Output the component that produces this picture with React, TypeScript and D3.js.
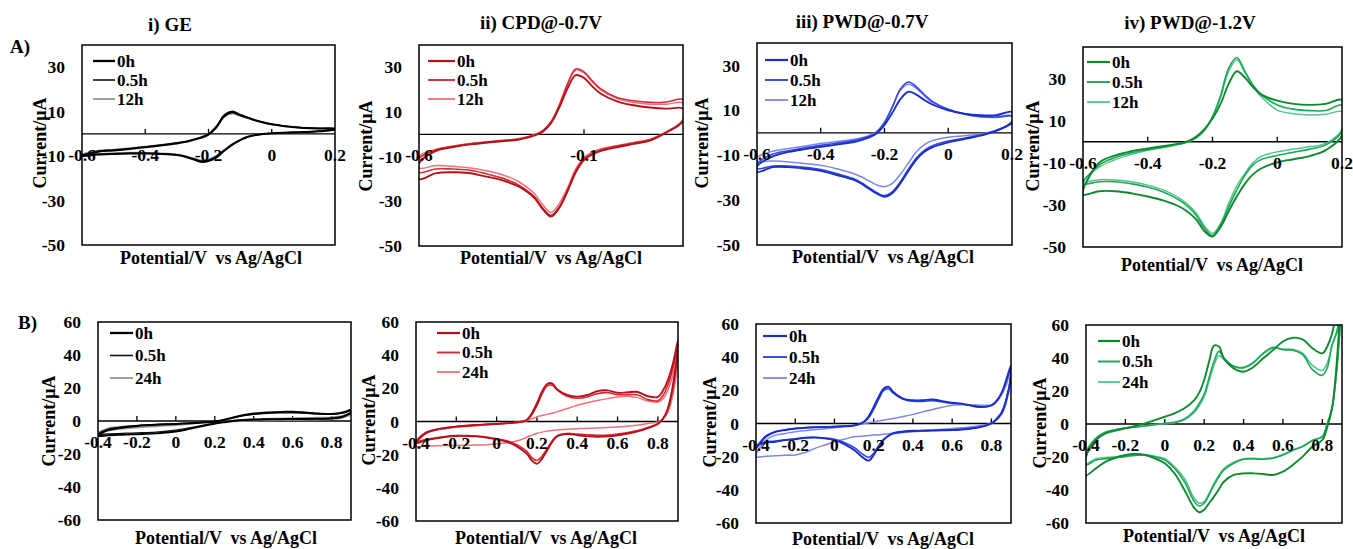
import * as d3 from "d3";

const A_POT = [-0.6, -0.55, -0.5, -0.45, -0.4, -0.35, -0.3, -0.275, -0.25, -0.225, -0.2, -0.175, -0.15, -0.125, -0.1, -0.075, -0.05, 0, 0.05, 0.1, 0.15, 0.2];
const B_POT = [-0.4, -0.35, -0.3, -0.25, -0.2, -0.15, -0.1, -0.05, 0, 0.05, 0.1, 0.15, 0.175, 0.2, 0.225, 0.25, 0.275, 0.3, 0.35, 0.4, 0.45, 0.5, 0.55, 0.6, 0.65, 0.7, 0.75, 0.8, 0.825, 0.85, 0.875, 0.9];

const A_TIMES = ["0h", "0.5h", "12h"];
const B_TIMES = ["0h", "0.5h", "24h"];

const A_TITLES = ["i) GE", "ii) CPD@-0.7V", "iii) PWD@-0.7V", "iv) PWD@-1.2V"];

// currents (µA); fwd = anodic sweep, rev = cathodic sweep, both listed by ascending potential
// A i) GE
const ai_0h_fwd = [-10, -8, -7.5, -6.8, -6, -5.2, -4.3, -3.7, -2.8, -1.8, -0.3, 3, 8, 9.7, 8.4, 7.2, 6, 4.3, 3.3, 2.7, 2.4, 2.3];
const ai_0h_rev = [-10, -9.3, -9, -8.8, -8.8, -9, -9.5, -10.2, -11.2, -12.3, -12, -10.2, -7.5, -4.8, -2.8, -1.3, -0.5, 0.3, 0.6, 0.8, 1.2, 2.0];
const ai_05h_fwd = [-9.6, -7.8, -7.2, -6.6, -5.8, -5, -4.1, -3.5, -2.6, -1.6, 0, 3.5, 8.6, 10.2, 8.8, 7.4, 6.1, 4.4, 3.4, 2.8, 2.5, 2.4];
const ai_05h_rev = [-9.6, -9.2, -8.9, -8.7, -8.7, -8.9, -9.4, -10.3, -11.5, -12.7, -12.4, -10.5, -7.7, -5, -2.9, -1.4, -0.6, 0.2, 0.5, 0.8, 1.2, 2.1];
const ai_12h_fwd = [-9.2, -7.5, -7, -6.4, -5.7, -4.9, -4, -3.4, -2.5, -1.5, 0, 3.2, 7.8, 9.1, 8.2, 7, 5.9, 4.2, 3.3, 2.7, 2.4, 2.3];
const ai_12h_rev = [-9.2, -8.9, -8.6, -8.4, -8.5, -8.7, -9.2, -9.9, -10.9, -11.8, -11.5, -9.8, -7.2, -4.6, -2.6, -1.2, -0.4, 0.3, 0.6, 0.9, 1.3, 2.0];

// A ii) CPD@-0.7V
const aii_0h_fwd = [-13, -7.5, -5.8, -4.6, -3.8, -3.1, -2.4, -1.6, -0.5, 1.2, 5, 12, 20.5, 26.5, 25.3, 21.5, 18.3, 14.8, 13, 12, 11.5, 11.5];
const aii_0h_rev = [-20, -17.5, -17, -17.3, -18.8, -20.5, -23.2, -25.5, -28.5, -33.5, -36.8, -33, -25.5, -17, -11.5, -9, -7.5, -5.8, -4.3, -2.8, 0.8, 6];
const aii_05h_fwd = [-11, -7, -5.5, -4.4, -3.6, -2.9, -2.2, -1.4, -0.3, 1.5, 5.5, 13, 22.5, 29.3, 28, 24, 20.5, 16.5, 15, 14.3, 14.5, 15.5];
const aii_05h_rev = [-17, -15.5, -15.5, -16, -17.5, -19.5, -22.5, -25, -28, -33, -36.3, -32.5, -25, -16.5, -11, -8.5, -7, -5.3, -3.9, -2.4, 1, 6.5];
const aii_12h_fwd = [-10, -6.8, -5.3, -4.2, -3.4, -2.7, -2, -1.2, -0.1, 1.7, 5.7, 13, 22.5, 28.8, 27.5, 23.5, 20, 16, 14.3, 13.5, 13.5, 14];
const aii_12h_rev = [-15, -14, -14.3, -15, -16.2, -18, -21, -23.5, -26.5, -31.5, -35, -31, -24, -15.5, -10.3, -8, -6.6, -5, -3.6, -2.2, 1.2, 6.5];

// A iii) PWD@-0.7V
const aiii_0h_fwd = [-15, -10.5, -8.5, -7.3, -6.3, -5.3, -4.2, -3.4, -2.2, -0.3, 3.5, 9, 15, 18.3, 17, 14.6, 12.6, 10, 8.5, 7.8, 7.8, 9.3];
const aiii_0h_rev = [-17.5, -15.3, -15.3, -16, -17, -18.8, -20.8, -22.5, -24.8, -27, -28.5, -26.8, -22.5, -17, -12, -8.5, -6.5, -4.3, -2.8, -1.3, 0.8, 5];
const aiii_05h_fwd = [-14, -9.5, -8, -6.7, -5.6, -4.6, -3.6, -2.8, -1.7, 0.2, 4.5, 11.5, 19.5, 22.6, 20.5, 17, 14, 10.5, 8.5, 7.3, 7, 7.5];
const aiii_05h_rev = [-16, -14.8, -14.8, -15.4, -16.4, -18.2, -20.3, -22, -24.3, -26.6, -28, -26.2, -21.8, -16.2, -11.2, -7.8, -5.8, -3.7, -2.4, -1, 1, 4.5];
const aiii_12h_fwd = [-11, -8.2, -7, -5.9, -4.8, -3.9, -3, -2.3, -1.3, 0.5, 4.8, 11.8, 19, 21.6, 19.8, 16.5, 13.5, 10.2, 8.2, 7, 6.8, 7.2];
const aiii_12h_rev = [-12.5, -12.6, -13, -13.7, -14.5, -16, -18, -19.5, -21.3, -23.2, -24, -22.5, -18.5, -13.5, -8.5, -5.3, -3.5, -2, -1.3, -0.5, 1.2, 4.5];

// A iv) PWD@-1.2V
const aiv_0h_fwd = [-25, -10, -6.5, -4.5, -3.2, -2, -0.8, 0.3, 2.5, 6, 11, 18, 27.5, 33.5, 30.5, 26, 22.5, 19.5, 18, 17.5, 18, 19.8];
const aiv_0h_rev = [-25, -23.5, -23.5, -24.5, -26, -28, -31, -33.5, -37, -42.5, -45, -40.5, -33, -26, -20, -15.5, -12.7, -9.8, -8.3, -6.8, -4, 3];
const aiv_05h_fwd = [-20, -11, -7.5, -5.2, -3.8, -2.5, -1, 0, 2, 5.5, 12, 22, 35, 40, 33.5, 27, 22.5, 17.5, 15.5, 14.8, 14.8, 17.4];
const aiv_05h_rev = [-20, -19, -19, -20, -21.5, -24, -28, -31, -35, -41, -44.5, -39.5, -31, -23, -16, -11, -8.5, -6.5, -5, -3.5, -1.5, 5];
const aiv_12h_fwd = [-19, -12, -8.5, -6, -4, -2.7, -1.2, -0.2, 1.8, 5.3, 11.5, 21, 33.5, 39, 33, 26.5, 21.5, 15, 13.3, 12.7, 13, 14.3];
const aiv_12h_rev = [-19, -18, -18.2, -19, -20.6, -23, -27, -30, -34, -40, -43.5, -38.8, -29.3, -21, -15, -10, -7, -4.8, -3.5, -2.4, -0.8, 6];

// B i) GE
const bi_0h_fwd = [-9, -5.5, -4.4, -3.6, -3, -2.6, -2.3, -2, -1.8, -1.5, -1.2, -0.8, -0.6, -0.3, 0.2, 0.8, 1.5, 2.3, 3.6, 4.5, 5, 5.3, 5.5, 5.6, 5.3, 4.8, 4.4, 4.3, 4.5, 5, 5.8, 6.8];
const bi_0h_rev = [-9, -8.6, -8.4, -8.2, -8, -7.8, -7.5, -7, -6.3, -5.3, -4, -2.7, -2.1, -1.6, -1.1, -0.7, -0.3, 0.1, 0.6, 0.9, 1, 1.1, 1.1, 1.2, 1.2, 1.3, 1.4, 1.6, 1.9, 2.4, 3.5, 5.5];
const bi_05h_fwd = [-8, -5, -4, -3.3, -2.8, -2.4, -2.1, -1.9, -1.7, -1.4, -1.1, -0.7, -0.5, -0.2, 0.2, 0.7, 1.3, 2, 3.2, 4, 4.5, 4.8, 4.9, 5, 4.8, 4.4, 4.1, 4, 4.2, 4.6, 5.3, 6.2];
const bi_05h_rev = [-8, -7.8, -7.6, -7.4, -7.2, -7, -6.7, -6.2, -5.5, -4.6, -3.5, -2.4, -1.9, -1.4, -1, -0.6, -0.2, 0.2, 0.6, 0.8, 0.9, 1, 1, 1.1, 1.1, 1.2, 1.3, 1.5, 1.8, 2.2, 3.2, 5];
const bi_24h_fwd = [-7, -4.5, -3.6, -3.1, -2.8, -2.5, -2.3, -2, -1.8, -1.5, -1.2, -0.9, -0.7, -0.6, -0.4, -0.2, 0, 0.3, 0.7, 1, 1.3, 1.5, 1.6, 1.8, 1.9, 2, 2.1, 2.3, 2.6, 3, 3.8, 5];
const bi_24h_rev = [-7, -6, -5, -4.5, -4, -3.6, -3.3, -2.9, -2.5, -2, -1.5, -1.1, -0.9, -0.8, -0.6, -0.4, -0.3, -0.2, 0, 0.2, 0.3, 0.4, 0.5, 0.6, 0.7, 0.8, 0.9, 1, 1.3, 1.7, 2.6, 4];

// B ii) CPD@-0.7V
const bii_0h_fwd = [-13, -7, -5, -3.9, -3.1, -2.6, -2.1, -1.8, -1.5, -1.1, -0.6, 1, 5, 11, 18, 22.5, 23, 19.5, 16, 15, 16, 18.3, 18.8, 17.3, 17.6, 17.8, 15.2, 14.8, 18.5, 25, 35, 49];
const bii_0h_rev = [-13, -11.3, -10.2, -9.2, -8.7, -8.7, -9, -9.7, -10.8, -12.2, -15, -19.5, -23.5, -25.5, -22.5, -17.5, -12.5, -9, -7.6, -8.2, -8.8, -9.2, -9, -8.3, -7.3, -6, -4, -1.5, 1.5, 8, 22, 47];
const bii_05h_fwd = [-12, -6.5, -4.7, -3.7, -3, -2.5, -2, -1.7, -1.4, -1, -0.5, 0.8, 4, 9.5, 16.5, 21.3, 22, 19, 15.2, 14, 14.8, 16.8, 17.4, 16.2, 16.2, 16, 13.2, 12.5, 15.5, 22, 32, 45];
const bii_05h_rev = [-12, -10.8, -9.8, -9, -8.5, -8.5, -8.8, -9.4, -10.4, -11.6, -14, -18, -21.8, -23.5, -21, -16.5, -11.8, -8.5, -7.2, -7.6, -8, -8.3, -8.2, -7.6, -6.7, -5.5, -3.6, -1.2, 1.6, 7.5, 20, 44];
const bii_24h_fwd = [-13, -6.5, -5, -4.2, -3.5, -3, -2.5, -2, -1.5, -1, -0.5, 0.5, 1.5, 2.8, 3.6, 4.3, 5, 5.8, 7.8, 9.8, 11.3, 12.6, 13.8, 14.8, 15.2, 14.4, 12.3, 11.8, 13.5, 19, 28, 40];
const bii_24h_rev = [-15, -14.8, -14.6, -14.5, -14.4, -14.3, -14.2, -14, -13.6, -12.8, -11.8, -9.5, -8.2, -7.2, -6.4, -5.8, -5.4, -5.1, -4.6, -4.3, -4.1, -3.9, -3.6, -3.3, -2.8, -2.2, -1.2, -0.3, 1.5, 5.5, 16, 38];

// B iii) PWD@-0.7V
const biii_0h_fwd = [-15, -8, -5, -3.9, -3, -2.6, -2.3, -2.1, -2, -1.7, -1.3, 1.1, 4.5, 10, 16, 21, 22.2, 19, 15, 14, 14, 14.5, 13.5, 12.5, 12, 10.8, 10, 11, 13.5, 18, 26, 35];
const biii_0h_rev = [-14, -11.5, -11, -10, -9.5, -8.7, -8.5, -9, -10, -12.4, -16, -21, -22.4, -19, -14, -10, -7.5, -6, -5, -4.5, -4.4, -4.3, -4.1, -4, -3.6, -3, -2, 0, 2.5, 6, 14, 30];
const biii_05h_fwd = [-14, -7.5, -4.8, -3.8, -3, -2.6, -2.3, -2.1, -1.9, -1.6, -1.1, 0.8, 3.5, 8.5, 14.5, 19.8, 21, 18.3, 14.6, 13.4, 13.3, 13.8, 13, 12.2, 11.8, 10.6, 9.8, 10.8, 13.2, 17.5, 25, 34];
const biii_05h_rev = [-13.5, -11.2, -10.6, -9.8, -9.2, -8.5, -8.3, -8.7, -9.5, -11.5, -14.5, -19, -20.4, -18, -13.4, -9.6, -7.3, -5.8, -4.8, -4.3, -4.2, -4.1, -3.9, -3.8, -3.4, -2.8, -1.8, 0.2, 2.7, 6.2, 14, 29];
const biii_24h_fwd = [-20, -10, -7, -6, -5, -4.3, -3.7, -3.1, -2.5, -1.8, -1, 0, 0.5, 1, 1.5, 2, 2.5, 3, 4.2, 5.5, 7, 8.5, 9.8, 11, 11.3, 11.2, 11, 11.2, 13, 17, 23, 33];
const biii_24h_rev = [-20, -19.8, -19.5, -19.2, -19, -17.5, -15, -13, -11, -9.5, -8, -7.5, -7.2, -7, -6.8, -6.5, -6.2, -6, -5.5, -5, -4.5, -4, -3.5, -3, -2.5, -2, -1, 0, 2, 5, 12, 28];

// B iv) PWD@-1.2V
const biv_0h_fwd = [-20, -9.7, -5.7, -4, -2.6, -1.2, 0.4, 2.3, 4.4, 6.5, 9.5, 14.5, 19, 26.7, 37.8, 47.5, 47, 39.8, 33.7, 31.7, 34.5, 39.8, 44.8, 50, 52.3, 51.3, 45.9, 42.8, 47, 55, 72, 95];
const biv_0h_rev = [-31, -26.9, -22.8, -20.5, -18.8, -18.2, -18.8, -20.8, -23.8, -30, -40, -51, -53.5, -52, -48, -44, -39.5, -35, -30.9, -29.9, -29.9, -30.3, -30.9, -28.9, -24.8, -19.8, -13.7, -9.7, -2, 10, 40, 95];
const biv_05h_fwd = [-18, -9, -5, -3.5, -2.6, -1.8, -1.2, -0.3, 0.5, 1, 3, 8, 12.5, 18, 28, 38, 44, 40, 35, 34, 37, 43, 46.5, 45, 44.7, 42, 33, 29.5, 34, 48, 56, 80];
const biv_05h_rev = [-24.8, -21.8, -21, -20.3, -19.8, -19, -18.8, -20, -21.8, -27, -35, -47, -49.7, -48, -43, -37, -32, -27.9, -23.8, -21.4, -21.2, -21.4, -20.8, -18.8, -16, -13.7, -10, -7.7, 0, 10, 35, 80];
const biv_24h_fwd = [-17, -8.5, -4.8, -3.4, -2.5, -1.8, -1.1, -0.4, 0.2, 0.8, 2.5, 7, 11, 16.5, 26, 35.5, 41.5, 39, 35, 34.5, 37.5, 42.5, 46, 45.5, 45.3, 43, 35.5, 32.5, 37, 48, 57, 80];
const biv_24h_rev = [-24, -21, -20.3, -19.8, -19.3, -18.7, -18.5, -19.5, -21, -26, -33, -45, -48, -47, -42, -36, -31, -27, -23.2, -21, -20.8, -21, -20.4, -18.5, -15.8, -13.5, -9.8, -7.4, 0.3, 10, 35, 80];

const FONT = "'Liberation Serif', 'Times New Roman', 'DejaVu Serif', serif";

const BLACKS = [
  { color: "#000000", width: 2 },
  { color: "#111111", width: 1.3 },
  { color: "#9a9a9a", width: 1.6 },
];
const REDS = [
  { color: "#b3121d", width: 1.9 },
  { color: "#d42b35", width: 1.6 },
  { color: "#f07078", width: 1.5 },
];
const BLUES = [
  { color: "#1b2ec8", width: 1.9 },
  { color: "#3447e0", width: 1.6 },
  { color: "#7d86ee", width: 1.5 },
];
const GREENS = [
  { color: "#0d8a2e", width: 1.9 },
  { color: "#1ea65a", width: 1.6 },
  { color: "#52c48a", width: 1.5 },
];

type Loop = { fwd: number[]; rev: number[] };
type PanelCfg = {
  id: string;
  pot: number[];
  loops: Loop[];
  styles: { color: string; width: number }[];
  labels: string[];
  box: [number, number, number, number]; // left, right, top, bottom
  xDomain: [number, number];
  yDomain: [number, number];
  xTicks: number[];
  yTicks: number[];
  title?: string;
  titleAt?: [number, number];
  xTitleAt: [number, number];
  yTitleAt: [number, number];
  legend: [number, number, number, number]; // line x0, line x1, first row y, row gap
};

const A_Y_TICKS = [-50, -30, -10, 10, 30];
const B_Y_TICKS = [-60, -40, -20, 0, 20, 40, 60];
const A_X_TICKS = [-0.6, -0.4, -0.2, 0, 0.2];
const B_X_TICKS = [-0.4, -0.2, 0, 0.2, 0.4, 0.6, 0.8];

const panels: PanelCfg[] = [
  {
    id: "ai", pot: A_POT, labels: A_TIMES, styles: BLACKS,
    loops: [{ fwd: ai_0h_fwd, rev: ai_0h_rev }, { fwd: ai_05h_fwd, rev: ai_05h_rev }, { fwd: ai_12h_fwd, rev: ai_12h_rev }],
    box: [82, 335, 45, 245], xDomain: [-0.6, 0.2], yDomain: [-50, 40],
    xTicks: A_X_TICKS, yTicks: A_Y_TICKS,
    title: A_TITLES[0], titleAt: [170, 31], xTitleAt: [211, 264], yTitleAt: [40, 143],
    legend: [93, 115, 61, 19],
  },
  {
    id: "aii", pot: A_POT, labels: A_TIMES, styles: REDS,
    loops: [{ fwd: aii_0h_fwd, rev: aii_0h_rev }, { fwd: aii_05h_fwd, rev: aii_05h_rev }, { fwd: aii_12h_fwd, rev: aii_12h_rev }],
    box: [419, 683, 45, 246], xDomain: [-0.6, 0.2], yDomain: [-50, 40],
    xTicks: [-0.6, -0.1], yTicks: A_Y_TICKS,
    title: A_TITLES[1], titleAt: [541, 29], xTitleAt: [551, 264], yTitleAt: [366, 146],
    legend: [428, 455, 61, 19],
  },
  {
    id: "aiii", pot: A_POT, labels: A_TIMES, styles: BLUES,
    loops: [{ fwd: aiii_0h_fwd, rev: aiii_0h_rev }, { fwd: aiii_05h_fwd, rev: aiii_05h_rev }, { fwd: aiii_12h_fwd, rev: aiii_12h_rev }],
    box: [757, 1012, 43, 245], xDomain: [-0.6, 0.2], yDomain: [-50, 40],
    xTicks: A_X_TICKS, yTicks: A_Y_TICKS,
    title: A_TITLES[2], titleAt: [862, 28], xTitleAt: [883, 263], yTitleAt: [702, 143],
    legend: [765, 788, 60, 20],
  },
  {
    id: "aiv", pot: A_POT, labels: A_TIMES, styles: GREENS,
    loops: [{ fwd: aiv_0h_fwd, rev: aiv_0h_rev }, { fwd: aiv_05h_fwd, rev: aiv_05h_rev }, { fwd: aiv_12h_fwd, rev: aiv_12h_rev }],
    box: [1083, 1342, 47, 247], xDomain: [-0.6, 0.2], yDomain: [-50, 45],
    xTicks: A_X_TICKS, yTicks: A_Y_TICKS,
    title: A_TITLES[3], titleAt: [1190, 29], xTitleAt: [1212, 271], yTitleAt: [1033, 146],
    legend: [1087, 1110, 62, 20],
  },
  {
    id: "bi", pot: B_POT, labels: B_TIMES, styles: BLACKS,
    loops: [{ fwd: bi_0h_fwd, rev: bi_0h_rev }, { fwd: bi_05h_fwd, rev: bi_05h_rev }, { fwd: bi_24h_fwd, rev: bi_24h_rev }],
    box: [98, 351, 322, 520], xDomain: [-0.4, 0.9], yDomain: [-60, 60],
    xTicks: B_X_TICKS, yTicks: B_Y_TICKS,
    xTitleAt: [226, 544], yTitleAt: [49, 421],
    legend: [110, 133, 333, 22.5],
  },
  {
    id: "bii", pot: B_POT, labels: B_TIMES, styles: REDS,
    loops: [{ fwd: bii_0h_fwd, rev: bii_0h_rev }, { fwd: bii_05h_fwd, rev: bii_05h_rev }, { fwd: bii_24h_fwd, rev: bii_24h_rev }],
    box: [416, 678, 322, 521], xDomain: [-0.4, 0.9], yDomain: [-60, 60],
    xTicks: B_X_TICKS, yTicks: B_Y_TICKS,
    xTitleAt: [546, 544], yTitleAt: [369, 420],
    legend: [437, 460, 333, 19.5],
  },
  {
    id: "biii", pot: B_POT, labels: B_TIMES, styles: BLUES,
    loops: [{ fwd: biii_0h_fwd, rev: biii_0h_rev }, { fwd: biii_05h_fwd, rev: biii_05h_rev }, { fwd: biii_24h_fwd, rev: biii_24h_rev }],
    box: [756, 1011, 324, 523], xDomain: [-0.4, 0.9], yDomain: [-60, 60],
    xTicks: B_X_TICKS, yTicks: B_Y_TICKS,
    xTitleAt: [883, 545], yTitleAt: [710, 422],
    legend: [763, 787, 336, 21],
  },
  {
    id: "biv", pot: B_POT, labels: B_TIMES, styles: GREENS,
    loops: [{ fwd: biv_0h_fwd, rev: biv_0h_rev }, { fwd: biv_05h_fwd, rev: biv_05h_rev }, { fwd: biv_24h_fwd, rev: biv_24h_rev }],
    box: [1086, 1342, 325, 523], xDomain: [-0.4, 0.9], yDomain: [-60, 60],
    xTicks: B_X_TICKS, yTicks: B_Y_TICKS,
    xTitleAt: [1214, 542], yTitleAt: [1040, 423],
    legend: [1098, 1120, 341, 20.5],
  },
];

function loopPoints(pot: number[], loop: Loop): [number, number][] {
  const pts: [number, number][] = pot.map((e, i) => [e, loop.fwd[i]]);
  for (let i = pot.length - 1; i >= 0; i--) {
    const last = pts[pts.length - 1];
    if (last[0] === pot[i] && last[1] === loop.rev[i]) continue;
    pts.push([pot[i], loop.rev[i]]);
  }
  const first = pts[0];
  const end = pts[pts.length - 1];
  if (first[0] === end[0] && first[1] === end[1]) pts.pop();
  return pts;
}

function Panel({ p }: { p: PanelCfg }) {
  const [left, right, top, bottom] = p.box;
  const x = d3.scaleLinear().domain(p.xDomain).range([left, right]);
  const y = d3.scaleLinear().domain(p.yDomain).range([bottom, top]);
  const zero = y(0);

  const line = d3
    .line<[number, number]>()
    .x((d) => x(d[0]))
    .y((d) => y(d[1]))
    .curve(d3.curveCatmullRomClosed.alpha(0.5));

  const drawOrder = [2, 1, 0];
  const [lx0, lx1, ly0, lgap] = p.legend;

  return (
    <g>
      <defs>
        <clipPath id={"clip-" + p.id}>
          <rect x={left} y={top} width={right - left} height={bottom - top} />
        </clipPath>
      </defs>

      {/* zero line with small upward ticks */}
      <line x1={left} x2={right} y1={zero} y2={zero} stroke="#000" strokeWidth={1.3} />
      {p.xTicks
        .filter((t) => x(t) > left + 2 && x(t) < right - 2)
        .map((t) => (
          <line key={t} x1={x(t)} x2={x(t)} y1={zero} y2={zero - 5} stroke="#000" strokeWidth={1.3} />
        ))}

      <g clipPath={`url(#clip-${p.id})`}>
        {drawOrder.map((i) => (
          <path
            key={i}
            d={line(loopPoints(p.pot, p.loops[i])) || ""}
            fill="none"
            stroke={p.styles[i].color}
            strokeWidth={p.styles[i].width}
            strokeLinejoin="round"
          />
        ))}
      </g>

      <rect x={left} y={top} width={right - left} height={bottom - top} fill="none" stroke="#000" strokeWidth={1.5} />

      {/* tick labels */}
      <g style={{ fontFamily: FONT }} fontWeight="bold" fontSize={17.5} fill="#000">
        {p.yTicks.map((t) => (
          <text key={"y" + t} x={left - 17} y={y(t)} dy="0.35em" textAnchor="end">
            {String(t)}
          </text>
        ))}
        {p.xTicks.map((t) => (
          <text key={"x" + t} x={x(t)} y={zero + 27} textAnchor="middle">
            {String(t)}
          </text>
        ))}
      </g>

      {/* legend */}
      <g style={{ fontFamily: FONT }} fontWeight="bold" fontSize={17}>
        {p.labels.map((lab, i) => (
          <g key={lab}>
            <line x1={lx0} x2={lx1} y1={ly0 + i * lgap} y2={ly0 + i * lgap} stroke={p.styles[i].color} strokeWidth={p.styles[i].width + 0.3} />
            <text x={lx1 + 2} y={ly0 + i * lgap} dy="0.35em">
              {lab}
            </text>
          </g>
        ))}
      </g>

      {/* axis titles */}
      <text
        x={p.xTitleAt[0]}
        y={p.xTitleAt[1]}
        textAnchor="middle"
        fontWeight="bold"
        fontSize={18}
        style={{ fontFamily: FONT, whiteSpace: "pre" }}
      >
        {"Potential/V  vs Ag/AgCl"}
      </text>
      <text
        transform={`translate(${p.yTitleAt[0]},${p.yTitleAt[1]}) rotate(-90)`}
        textAnchor="middle"
        dy="0.35em"
        fontWeight="bold"
        fontSize={18}
        style={{ fontFamily: FONT }}
      >
        Current/μA
      </text>

      {p.title && p.titleAt && (
        <text x={p.titleAt[0]} y={p.titleAt[1]} textAnchor="middle" fontWeight="bold" fontSize={19} style={{ fontFamily: FONT }}>
          {p.title}
        </text>
      )}
    </g>
  );
}

export default function App() {
  return (
    <svg
      width={1353}
      height={549}
      viewBox="0 0 1353 549"
      style={{ position: "absolute", left: 0, top: 0, background: "#fff" }}
    >
      <rect width={1353} height={549} fill="#fff" />
      {panels.map((p) => (
        <Panel key={p.id} p={p} />
      ))}
      <text x={10} y={53} fontWeight="bold" fontSize={19} style={{ fontFamily: FONT }}>
        A)
      </text>
      <text x={18} y={329} fontWeight="bold" fontSize={19} style={{ fontFamily: FONT }}>
        B)
      </text>
    </svg>
  );
}
